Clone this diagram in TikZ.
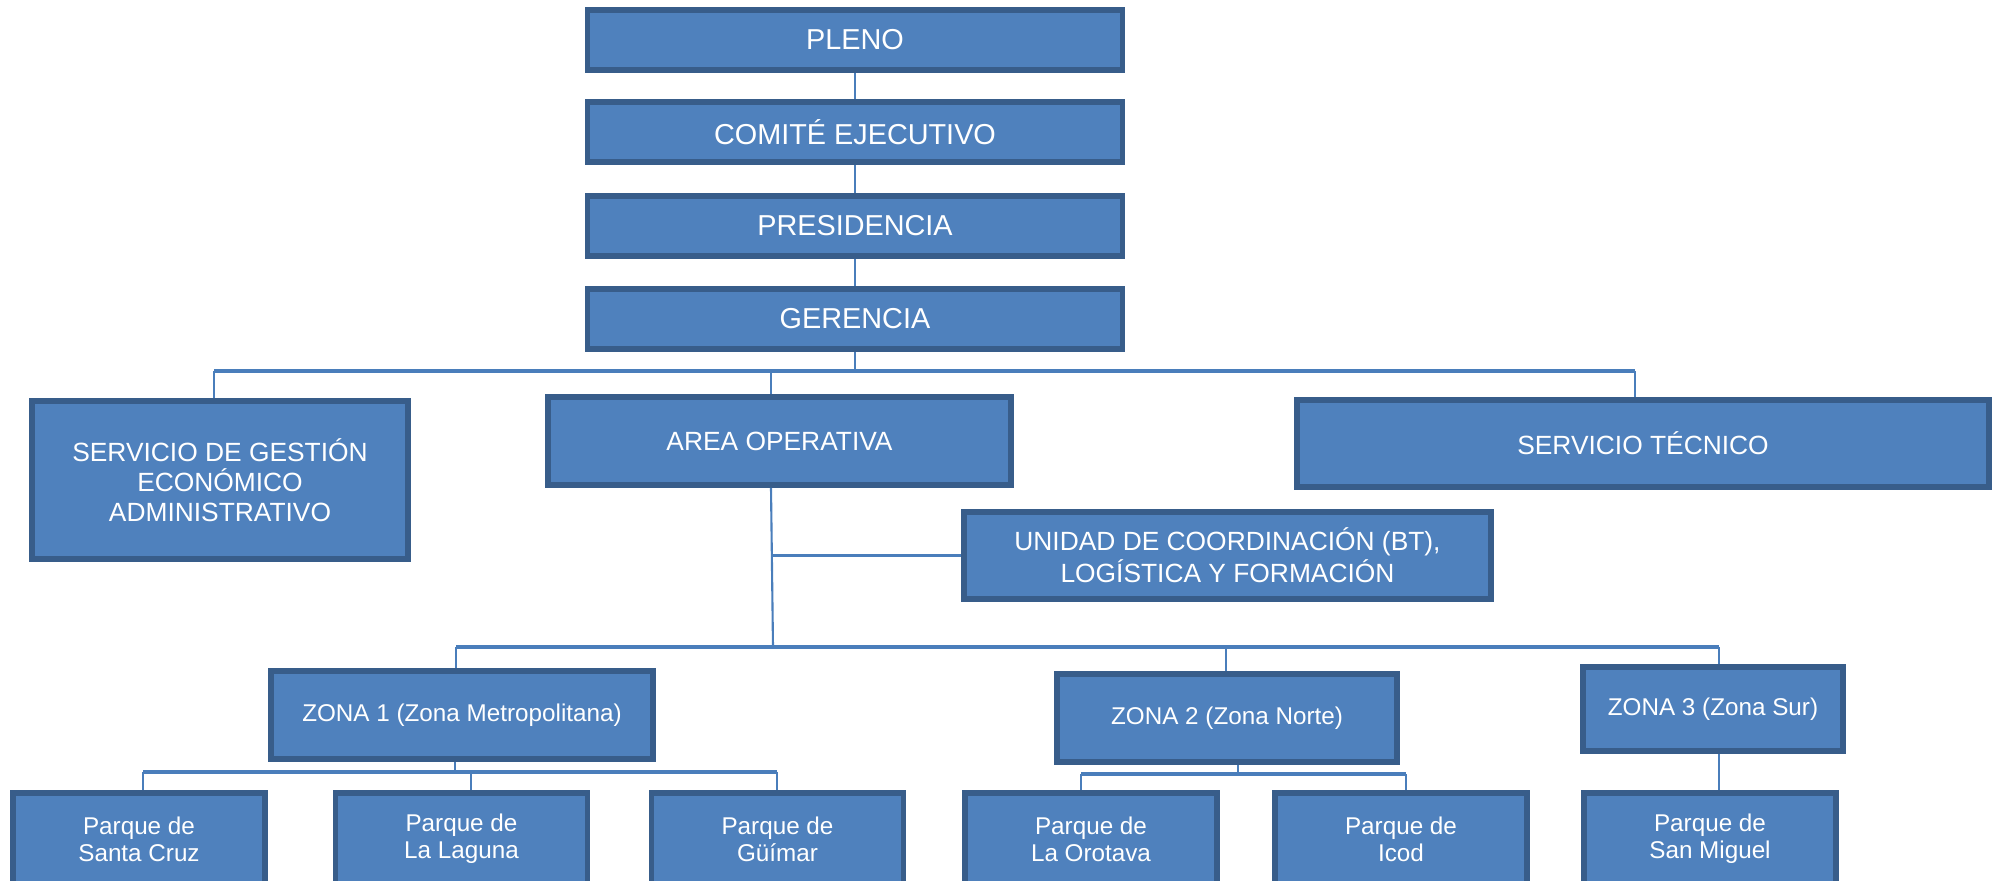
\documentclass[tikz,border=0pt]{standalone}
\usepackage{fontspec}
\setmainfont{Liberation Sans}
\usepackage{tikz}
\usetikzlibrary{positioning,calc}
\definecolor{boxfill}{HTML}{4F81BD}
\definecolor{boxline}{HTML}{385D8A}
\definecolor{linkblue}{HTML}{4A7EBB}

\begin{document}
\begin{tikzpicture}[
    unit style/.style={rectangle, draw=boxline, fill=boxfill, line width=1.6pt, text=white, align=center, inner sep=0pt},
    top style/.style={unit style, minimum width=5.35cm, minimum height=0.6cm, font=\fontsize{8.2}{9.5}\selectfont},
    area style/.style={unit style, font=\fontsize{7.5}{8.6}\selectfont},
    zone style/.style={unit style, minimum height=0.88cm, font=\fontsize{6.9}{7.6}\selectfont},
    park style/.style={unit style, minimum width=2.52cm, minimum height=0.92cm, font=\fontsize{6.9}{7.6}\selectfont},
    link/.style={draw=linkblue, line width=0.6pt},
    bus/.style={draw=linkblue, line width=1pt}
]
\clip (0,0) rectangle (19.97,-8.80);

% top of the chart
\node[top style] (pleno) at (8.55,-0.40) {PLENO};
\node[top style] (comite) at (8.55,-1.32) {COMITÉ EJECUTIVO};
\node[top style] (presidencia) at (8.55,-2.26) {PRESIDENCIA};
\node[top style] (gerencia) at (8.55,-3.19) {GERENCIA};

\node[area style, minimum width=3.76cm, minimum height=1.58cm] (gestion) at (2.20,-4.80)
    {SERVICIO DE GESTIÓN\\ECONÓMICO\\ADMINISTRATIVO};
\node[area style, minimum width=4.63cm, minimum height=0.88cm] (area) at (7.795,-4.41) {AREA OPERATIVA};
\node[area style, minimum width=6.92cm, minimum height=0.87cm] (tecnico) at (16.43,-4.435) {SERVICIO TÉCNICO};
\node[area style, minimum width=5.27cm, minimum height=0.87cm, font=\fontsize{7.5}{9}\selectfont] (unidad) at (12.275,-5.555)
    {UNIDAD DE COORDINACIÓN (BT),\\LOGÍSTICA Y FORMACIÓN};

% zones
\node[zone style, minimum width=3.82cm] (zona1) at (4.62,-7.15) {ZONA 1 (Zona Metropolitana)};
\node[zone style, minimum width=3.40cm] (zona2) at (12.27,-7.18) {ZONA 2 (Zona Norte)};
\node[zone style, minimum width=2.60cm, minimum height=0.84cm] (zona3) at (17.13,-7.09) {ZONA 3 (Zona Sur)};

% parques
\node[park style] (santacruz) at (1.39,-8.39) {Parque de\\Santa Cruz};
\node[park style] (laguna) at (4.615,-8.39) {Parque de\\La Laguna};
\node[park style] (guimar) at (7.775,-8.39) {Parque de\\Güímar};
\node[park style] (orotava) at (10.91,-8.39) {Parque de\\La Orotava};
\node[park style] (icod) at (14.01,-8.39) {Parque de\\Icod};
\node[park style] (sanmiguel) at (17.10,-8.39) {Parque de\\San Miguel};

% connectors
\draw[link] (pleno) -- (comite);
\draw[link] (comite) -- (presidencia);
\draw[link] (presidencia) -- (gerencia);

\coordinate (busL) at (2.14,-3.71);
\coordinate (busR) at (16.35,-3.71);
\coordinate (busA) at (7.71,-3.71);
\draw[bus] (busL) -- (busR);
\draw[link] (gerencia) -- (gerencia |- busL);
\draw[link] (busL) -- (busL |- gestion.north);
\draw[link] (busA) -- (busA |- area.north);
\draw[link] (busR) -- (busR |- tecnico.north);

\coordinate (zbusL) at (4.56,-6.47);
\coordinate (zbusR) at (17.19,-6.47);
\coordinate (zbusM) at (12.26,-6.47);
\coordinate (zbusA) at (7.73,-6.47);
\draw[link] (busA |- area.south) -- (zbusA);
\draw[link] (busA |- unidad.west) -- (unidad.west);
\draw[bus] (zbusL) -- (zbusR);
\draw[link] (zbusL) -- (zbusL |- zona1.north);
\draw[link] (zbusM) -- (zbusM |- zona2.north);
\draw[link] (zbusR) -- (zbusR |- zona3.north);

\coordinate (p1L) at (1.43,-7.72);
\coordinate (p1M) at (4.71,-7.72);
\coordinate (p1R) at (7.77,-7.72);
\coordinate (p1Z) at (4.55,-7.72);
\draw[bus] (p1L) -- (p1R);
\draw[link] (p1Z |- zona1.south) -- (p1Z);
\draw[link] (p1L) -- (p1L |- santacruz.north);
\draw[link] (p1M) -- (p1M |- laguna.north);
\draw[link] (p1R) -- (p1R |- guimar.north);

\coordinate (p2L) at (10.81,-7.74);
\coordinate (p2R) at (14.06,-7.74);
\coordinate (p2Z) at (12.38,-7.74);
\draw[bus] (p2L) -- (p2R);
\draw[link] (p2Z |- zona2.south) -- (p2Z);
\draw[link] (p2L) -- (p2L |- orotava.north);
\draw[link] (p2R) -- (p2R |- icod.north);

\draw[link] (zbusR |- zona3.south) -- (zbusR |- sanmiguel.north);
\end{tikzpicture}
\end{document}
